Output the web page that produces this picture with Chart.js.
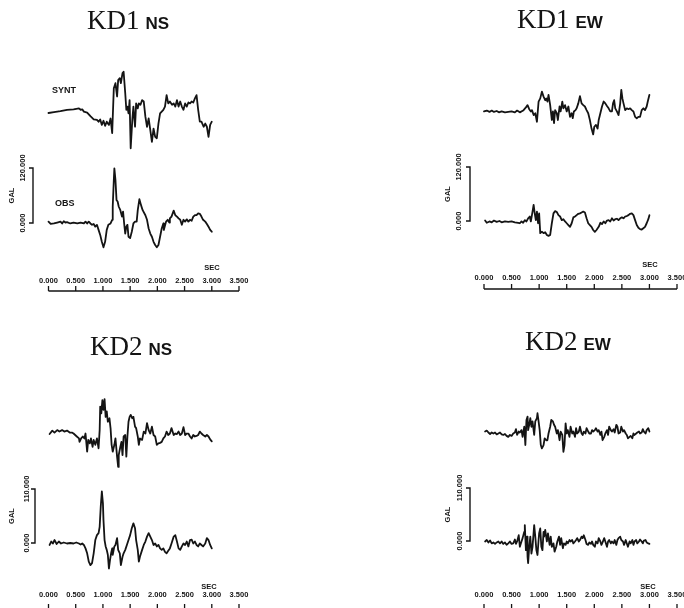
<!doctype html>
<html lang="en">
<head>
  <meta charset="utf-8" />
  <title>KD1 / KD2 SYNT vs OBS</title>
  <script src="https://cdn.jsdelivr.net/npm/chart.js@4.4.1/dist/chart.umd.min.js"></script>
  <style>
    *{box-sizing:border-box;margin:0;padding:0}
    html,body{width:684px;height:608px;background:#fff;overflow:hidden}
    #stage{position:relative;width:684px;height:608px}
    canvas{position:absolute}
  </style>
</head>
<body>
  <div id="stage">
    <canvas id="kd1ns" width="342" height="304" style="left:0;top:0"></canvas>
    <canvas id="kd1ew" width="342" height="304" style="left:342px;top:0"></canvas>
    <canvas id="kd2ns" width="342" height="304" style="left:0;top:304px"></canvas>
    <canvas id="kd2ew" width="342" height="304" style="left:342px;top:304px"></canvas>
  </div>

  <script>
    /* ===== data: [time (s), acceleration (gal)] ===== */
    const timeTicks = [0, 0.5, 1, 1.5, 2, 2.5, 3, 3.5];
    const timeUnit = 'SEC';
    const accUnit = 'GAL';
    const traceNames = ['SYNT', 'OBS'];

    const kd1NsSynt = [[0,0],[0.10,2],[0.22,4],[0.34,7],[0.46,8],[0.56,10],[0.59,7],[0.62,8],[0.65,3],[0.71,1],[0.77,-7],[0.83,-14],[0.89,-15],[0.92,-19],[0.95,-14],[0.98,-26],[1.01,-17],[1.04,-28],[1.07,-19],[1.11,-26],[1.14,-12],[1.17,-44],[1.20,54],[1.23,65],[1.26,36],[1.28,72],[1.31,76],[1.33,65],[1.36,87],[1.38,90],[1.41,43],[1.43,7],[1.45,14],[1.47,-1],[1.49,28],[1.51,-77],[1.54,-15],[1.56,14],[1.59,-30],[1.61,21],[1.64,10],[1.66,21],[1.69,18],[1.72,28],[1.75,25],[1.78,-8],[1.81,-30],[1.84,-12],[1.87,-37],[1.90,-63],[1.93,-34],[1.96,-52],[1.99,-55],[2.02,-23],[2.05,-1],[2.08,3],[2.11,7],[2.14,14],[2.17,39],[2.20,21],[2.23,25],[2.27,18],[2.30,21],[2.33,14],[2.36,28],[2.39,14],[2.42,25],[2.45,14],[2.48,7],[2.51,21],[2.54,14],[2.57,23],[2.60,21],[2.63,25],[2.66,23],[2.69,32],[2.72,39],[2.75,7],[2.78,-19],[2.81,-19],[2.85,-30],[2.88,-23],[2.91,-30],[2.94,-52],[2.97,-26],[3.00,-19]];
    const kd1NsObs = [[0,3],[0.04,-2],[0.10,-1],[0.16,1],[0.22,3],[0.25,-1],[0.28,4],[0.31,1],[0.34,2],[0.40,-1],[0.46,1],[0.53,-1],[0.59,1],[0.65,-1],[0.68,3],[0.71,-1],[0.74,3],[0.77,-1],[0.80,-4],[0.83,-2],[0.86,-8],[0.89,-4],[0.92,-15],[0.95,-26],[0.98,-41],[1.01,-53],[1.04,-41],[1.07,-15],[1.10,-4],[1.14,-1],[1.17,7],[1.18,36],[1.20,94],[1.21,119],[1.23,94],[1.25,50],[1.27,47],[1.29,36],[1.32,28],[1.35,14],[1.37,25],[1.39,-1],[1.41,-23],[1.43,-8],[1.45,-4],[1.47,-30],[1.50,-33],[1.53,-19],[1.56,-1],[1.59,3],[1.62,3],[1.64,28],[1.67,52],[1.70,39],[1.73,28],[1.78,17],[1.81,7],[1.84,-12],[1.87,-23],[1.90,-30],[1.93,-41],[1.96,-48],[1.99,-53],[2.02,-48],[2.05,-30],[2.08,-12],[2.11,-1],[2.12,-15],[2.16,3],[2.19,7],[2.22,1],[2.23,10],[2.26,14],[2.30,27],[2.33,17],[2.36,14],[2.39,10],[2.42,7],[2.45,-4],[2.48,7],[2.51,3],[2.54,8],[2.57,3],[2.60,7],[2.63,5],[2.66,14],[2.69,17],[2.72,17],[2.75,21],[2.78,20],[2.81,14],[2.84,7],[2.88,3],[2.91,-2],[2.94,-8],[2.97,-15],[3.00,-19]];

    const kd1EwSynt = [[0,-1],[0.05,1],[0.10,-2],[0.14,1],[0.18,-2],[0.23,0],[0.27,-3],[0.32,-1],[0.38,-3],[0.44,-2],[0.50,-1],[0.56,-3],[0.60,1],[0.65,-3],[0.71,1],[0.76,8],[0.79,13],[0.82,4],[0.85,-1],[0.87,2],[0.90,-9],[0.93,-5],[0.96,-24],[0.99,21],[1.02,28],[1.05,43],[1.08,32],[1.11,24],[1.13,28],[1.15,21],[1.17,36],[1.20,13],[1.23,-20],[1.25,-1],[1.27,-27],[1.29,2],[1.32,-5],[1.34,-20],[1.37,10],[1.39,-1],[1.42,21],[1.44,6],[1.47,13],[1.50,-1],[1.53,10],[1.56,-13],[1.59,-5],[1.61,-16],[1.63,-1],[1.66,2],[1.68,6],[1.71,17],[1.74,33],[1.77,17],[1.80,13],[1.83,10],[1.86,2],[1.89,-5],[1.92,-20],[1.95,-39],[1.98,-52],[2.00,-35],[2.03,-31],[2.06,-39],[2.08,-20],[2.11,-5],[2.14,10],[2.17,21],[2.20,17],[2.23,11],[2.26,6],[2.29,-1],[2.32,-1],[2.34,17],[2.36,24],[2.38,6],[2.41,-1],[2.44,-9],[2.47,17],[2.49,47],[2.51,28],[2.53,17],[2.56,2],[2.59,6],[2.62,4],[2.65,6],[2.68,2],[2.71,-1],[2.74,-13],[2.77,-16],[2.80,-13],[2.83,-13],[2.86,2],[2.89,6],[2.92,2],[2.95,10],[2.97,21],[3.00,36]];
    const kd1EwObs = [[0.02,1],[0.05,-4],[0.10,-1],[0.14,-3],[0.18,1],[0.23,-2],[0.28,0],[0.32,-3],[0.38,-1],[0.44,-2],[0.50,-1],[0.56,-3],[0.62,-4],[0.65,-5],[0.68,-1],[0.71,-4],[0.74,2],[0.77,-1],[0.80,6],[0.83,10],[0.85,-1],[0.88,21],[0.90,36],[0.92,17],[0.94,2],[0.96,21],[0.98,-5],[1.00,17],[1.02,-27],[1.05,-24],[1.08,-27],[1.11,-25],[1.14,-31],[1.17,-33],[1.20,-31],[1.23,-5],[1.26,17],[1.29,22],[1.32,20],[1.35,13],[1.38,10],[1.41,2],[1.44,4],[1.47,-1],[1.50,-5],[1.53,-9],[1.56,-13],[1.59,-5],[1.62,8],[1.65,10],[1.68,13],[1.71,16],[1.74,17],[1.77,19],[1.80,21],[1.83,19],[1.86,6],[1.89,-5],[1.92,-9],[1.95,-13],[1.98,-20],[2.01,-24],[2.04,-20],[2.08,-13],[2.11,-4],[2.14,-7],[2.17,-1],[2.20,-5],[2.23,1],[2.26,2],[2.29,-1],[2.32,6],[2.35,1],[2.38,4],[2.41,5],[2.44,2],[2.47,6],[2.50,8],[2.53,6],[2.56,10],[2.59,11],[2.62,13],[2.65,16],[2.68,17],[2.71,13],[2.74,2],[2.77,-9],[2.80,-15],[2.83,-18],[2.86,-19],[2.89,-16],[2.92,-13],[2.95,-5],[2.98,4],[3.00,13]];

    const kd2NsSynt = [[0.02,2],[0.07,9],[0.11,5],[0.16,10],[0.20,7],[0.25,10],[0.29,7],[0.34,9],[0.39,5],[0.43,5],[0.46,3],[0.49,0],[0.52,-3],[0.56,-7],[0.57,-14],[0.60,-7],[0.63,-3],[0.66,-7],[0.68,3],[0.71,-34],[0.73,-10],[0.76,-17],[0.78,-7],[0.81,-24],[0.83,-10],[0.86,-20],[0.89,-7],[0.92,-27],[0.94,10],[0.95,58],[0.97,44],[0.99,71],[1.01,51],[1.03,73],[1.05,37],[1.07,48],[1.09,27],[1.12,34],[1.14,14],[1.16,-20],[1.18,-34],[1.21,-20],[1.23,-7],[1.26,-44],[1.28,-65],[1.29,-41],[1.32,-24],[1.34,-14],[1.36,-41],[1.38,-3],[1.41,0],[1.43,-44],[1.45,-3],[1.47,27],[1.49,37],[1.51,41],[1.54,34],[1.56,37],[1.59,17],[1.61,14],[1.64,-3],[1.66,-20],[1.68,-7],[1.72,-10],[1.75,7],[1.78,3],[1.81,24],[1.84,10],[1.87,3],[1.90,17],[1.93,0],[1.96,-3],[1.99,-20],[2.02,-17],[2.05,-16],[2.08,-14],[2.11,-7],[2.14,-3],[2.17,7],[2.20,0],[2.23,3],[2.26,14],[2.30,0],[2.33,3],[2.36,2],[2.39,7],[2.42,0],[2.45,3],[2.48,16],[2.51,0],[2.54,3],[2.57,3],[2.60,-3],[2.63,-7],[2.66,0],[2.69,-3],[2.72,-2],[2.75,0],[2.78,7],[2.81,3],[2.84,0],[2.88,-3],[2.91,0],[2.94,-3],[2.97,-9],[3.00,-13]];
    const kd2NsObs = [[0.02,-4],[0.05,3],[0.08,-1],[0.11,6],[0.15,-2],[0.19,3],[0.23,-1],[0.28,1],[0.34,-1],[0.40,0],[0.46,-1],[0.51,1],[0.56,-1],[0.59,-3],[0.62,-1],[0.65,-4],[0.68,-11],[0.71,-21],[0.74,-38],[0.77,-45],[0.80,-41],[0.83,-21],[0.86,6],[0.89,16],[0.92,20],[0.94,33],[0.96,74],[0.98,105],[1.00,81],[1.01,47],[1.03,6],[1.05,-7],[1.07,-14],[1.09,-24],[1.11,-52],[1.13,-35],[1.15,-21],[1.17,-11],[1.18,-24],[1.21,-7],[1.23,-4],[1.26,10],[1.28,-14],[1.31,-21],[1.33,-45],[1.36,-28],[1.38,-21],[1.41,-14],[1.44,-4],[1.47,6],[1.50,16],[1.53,30],[1.56,40],[1.59,30],[1.61,6],[1.64,-14],[1.66,-38],[1.68,-28],[1.72,-14],[1.75,-4],[1.78,3],[1.81,13],[1.84,20],[1.87,13],[1.90,6],[1.93,-4],[1.96,-1],[1.99,-7],[2.02,-4],[2.05,-11],[2.08,-14],[2.11,-11],[2.14,-18],[2.17,-21],[2.20,-16],[2.23,-11],[2.26,-1],[2.30,13],[2.33,16],[2.36,3],[2.39,-11],[2.42,-14],[2.45,-7],[2.48,-1],[2.51,-4],[2.54,3],[2.57,-7],[2.60,6],[2.63,7],[2.66,-1],[2.69,3],[2.72,-4],[2.75,-7],[2.78,-1],[2.81,-4],[2.84,-7],[2.88,-1],[2.91,10],[2.94,6],[2.97,-4],[3.00,-11]];

    const kd2EwSynt = [[0.02,3],[0.05,5],[0.08,1],[0.11,-2],[0.14,1],[0.17,-1],[0.20,1],[0.23,-3],[0.26,-1],[0.29,1],[0.32,-3],[0.35,-4],[0.38,-2],[0.41,-6],[0.44,-8],[0.47,-4],[0.50,-6],[0.53,-1],[0.56,1],[0.58,8],[0.60,-4],[0.63,3],[0.65,1],[0.68,6],[0.70,-8],[0.73,13],[0.75,-25],[0.77,27],[0.79,34],[0.80,6],[0.82,17],[0.84,31],[0.86,13],[0.88,24],[0.91,-4],[0.93,24],[0.96,31],[0.97,41],[0.99,24],[1.01,6],[1.03,-25],[1.05,-32],[1.08,-25],[1.10,-11],[1.13,-15],[1.15,-15],[1.17,-1],[1.20,13],[1.22,27],[1.25,24],[1.27,17],[1.29,13],[1.32,-1],[1.34,6],[1.37,-15],[1.39,3],[1.42,-4],[1.44,-39],[1.46,-25],[1.48,20],[1.50,-1],[1.52,6],[1.55,-8],[1.57,13],[1.60,-1],[1.62,3],[1.65,-8],[1.67,10],[1.69,-1],[1.72,3],[1.74,13],[1.77,-1],[1.79,-4],[1.81,3],[1.84,-1],[1.86,10],[1.89,3],[1.91,-1],[1.94,-1],[1.96,6],[1.98,3],[2.01,6],[2.03,10],[2.06,3],[2.08,6],[2.11,-4],[2.13,3],[2.15,-15],[2.18,-8],[2.20,-1],[2.23,6],[2.25,-4],[2.27,13],[2.30,6],[2.32,3],[2.35,8],[2.37,1],[2.40,17],[2.42,13],[2.44,-1],[2.47,1],[2.49,13],[2.52,3],[2.54,6],[2.57,-1],[2.59,-4],[2.61,-11],[2.64,-8],[2.66,-6],[2.69,-11],[2.71,-1],[2.73,-4],[2.76,-1],[2.78,1],[2.81,3],[2.83,-1],[2.86,1],[2.88,8],[2.90,3],[2.93,-1],[2.95,6],[2.98,10],[3.00,3]];
    const kd2EwObs = [[0.02,-1],[0.05,2],[0.08,-3],[0.11,1],[0.14,-5],[0.17,-3],[0.20,-6],[0.23,-3],[0.26,-1],[0.29,-5],[0.32,-1],[0.35,-6],[0.38,-3],[0.41,-8],[0.44,-5],[0.47,-1],[0.50,-6],[0.53,-5],[0.56,3],[0.58,-6],[0.60,-1],[0.63,12],[0.65,-12],[0.68,-1],[0.70,6],[0.73,19],[0.74,33],[0.76,-19],[0.78,9],[0.79,-33],[0.80,-46],[0.82,-12],[0.84,9],[0.86,-26],[0.88,-12],[0.91,33],[0.93,9],[0.95,-19],[0.97,-29],[0.99,2],[1.00,16],[1.02,26],[1.04,-12],[1.06,-19],[1.08,19],[1.09,9],[1.11,23],[1.14,-1],[1.16,16],[1.19,-8],[1.21,9],[1.23,-12],[1.26,-5],[1.28,-22],[1.31,-12],[1.33,-1],[1.36,9],[1.38,-8],[1.40,6],[1.43,-15],[1.45,-5],[1.48,-8],[1.50,-1],[1.52,-5],[1.55,2],[1.57,-1],[1.60,2],[1.62,-5],[1.65,-1],[1.67,2],[1.69,6],[1.72,-1],[1.74,2],[1.77,9],[1.79,6],[1.81,12],[1.84,2],[1.86,-6],[1.89,-8],[1.91,-3],[1.94,-6],[1.96,-1],[1.98,-8],[2.01,-12],[2.03,-1],[2.06,-5],[2.08,6],[2.11,-1],[2.13,-8],[2.15,-3],[2.18,6],[2.20,-1],[2.23,-12],[2.25,-1],[2.27,2],[2.30,-5],[2.32,-1],[2.35,-5],[2.37,2],[2.40,-8],[2.42,2],[2.44,6],[2.47,9],[2.49,2],[2.52,-1],[2.54,-8],[2.57,2],[2.59,-5],[2.61,-12],[2.64,-1],[2.66,-5],[2.69,2],[2.71,-8],[2.73,-1],[2.76,2],[2.78,-5],[2.81,-1],[2.83,3],[2.86,-1],[2.88,-5],[2.90,1],[2.93,2],[2.95,-3],[2.98,-5],[3.00,-6]];

    /* ===== panels: which data, and where it sits on the page ===== */
    const panels = [
      { id:'kd1ns', station:'KD1', comp:'NS', synt:kd1NsSynt, obs:kd1NsObs, scaleGal:120, names:true,
        box:{ ox:0, oy:0, t0:48.5, t35:239, obsZero:223, barTop:168, syntZero:113, barX:33, lblGap:10, galGap:21,
              titleX:87, titleBase:29, axisY:291, labelY:281, secX:212, secY:268 } },
      { id:'kd1ew', station:'KD1', comp:'EW', synt:kd1EwSynt, obs:kd1EwObs, scaleGal:120, names:false,
        box:{ ox:342, oy:0, t0:484, t35:677, obsZero:221, barTop:167, syntZero:111, barX:470, lblGap:11, galGap:22,
              titleX:517, titleBase:28, axisY:289, labelY:278, secX:650, secY:265 } },
      { id:'kd2ns', station:'KD2', comp:'NS', synt:kd2NsSynt, obs:kd2NsObs, scaleGal:110, names:false,
        box:{ ox:0, oy:304, t0:48.5, t35:239, obsZero:543, barTop:489, syntZero:435, barX:35, lblGap:8, galGap:23,
              titleX:90, titleBase:355, axisY:609, labelY:595, secX:209, secY:587 } },
      { id:'kd2ew', station:'KD2', comp:'EW', synt:kd2EwSynt, obs:kd2EwObs, scaleGal:110, names:false,
        box:{ ox:342, oy:304, t0:484, t35:677, obsZero:541, barTop:488, syntZero:433, barX:470, lblGap:10, galGap:22,
              titleX:525, titleBase:350, axisY:609, labelY:595, secX:648, secY:587 } }
    ];

    const INK = '#141414';
    const SANS = '"Liberation Sans", Arial, sans-serif';
    const SERIF = '"Liberation Serif", "DejaVu Serif", serif';
    const W = 342, H = 304, AREA_TOP = 20, AREA_BOTTOM = 300;

    // rotated (bottom-to-top) text
    function upText(ctx, txt, x, y){
      ctx.save();
      ctx.translate(x, y);
      ctx.rotate(-Math.PI / 2);
      ctx.textAlign = 'center';
      ctx.textBaseline = 'middle';
      ctx.fillText(txt, 0, 0);
      ctx.restore();
    }

    // title, scale bar and time axis drawn from the chart's scales
    function decor(p){
      const b = p.box;
      return {
        id: 'decor',
        afterDraw(chart){
          const ctx = chart.ctx;
          const xs = chart.scales.x, ys = chart.scales.yObs, yS = chart.scales.ySynt;
          ctx.save();
          ctx.fillStyle = INK;
          ctx.strokeStyle = INK;

          /* — title — */
          ctx.textAlign = 'left';
          ctx.textBaseline = 'alphabetic';
          ctx.font = '27px ' + SERIF;
          ctx.fillText(p.station, b.titleX - b.ox, b.titleBase - b.oy);
          const w = ctx.measureText(p.station).width;
          ctx.font = 'bold 17px ' + SANS;
          ctx.fillText(p.comp, b.titleX - b.ox + w + 6, b.titleBase - b.oy);

          /* — trace names — */
          if (p.names) {
            ctx.font = 'bold 9px ' + SANS;
            ctx.fillText(traceNames[0], 52 - b.ox, yS.getPixelForValue(0) - 20);
            ctx.fillText(traceNames[1], 55 - b.ox, ys.getPixelForValue(0) - 17);
          }

          /* — amplitude scale bar — */
          const y0 = ys.getPixelForValue(0), y1 = ys.getPixelForValue(p.scaleGal);
          const bx = b.barX - b.ox;
          ctx.lineWidth = 1.4;
          ctx.beginPath();
          ctx.moveTo(bx - 4, y1); ctx.lineTo(bx, y1); ctx.lineTo(bx, y0); ctx.lineTo(bx - 4, y0);
          ctx.stroke();
          ctx.font = 'bold 7.5px ' + SANS;
          upText(ctx, p.scaleGal.toFixed(3), bx - b.lblGap, y1);
          upText(ctx, (0).toFixed(3), bx - b.lblGap, y0);
          upText(ctx, accUnit, bx - b.galGap, (y0 + y1) / 2);

          /* — time axis: labels above, line below — */
          const ay = b.axisY - b.oy;
          ctx.lineWidth = 1.3;
          ctx.beginPath();
          ctx.moveTo(xs.getPixelForValue(timeTicks[0]), ay);
          ctx.lineTo(xs.getPixelForValue(timeTicks[timeTicks.length - 1]), ay);
          timeTicks.forEach(t => {
            const px = xs.getPixelForValue(t);
            ctx.moveTo(px, ay); ctx.lineTo(px, ay - 5);
          });
          ctx.stroke();
          ctx.textAlign = 'center';
          ctx.textBaseline = 'middle';
          ctx.font = 'bold 7.5px ' + SANS;
          timeTicks.forEach(t => ctx.fillText(t.toFixed(3), xs.getPixelForValue(t), b.labelY - b.oy));
          ctx.fillText(timeUnit, b.secX - b.ox, b.secY - b.oy);
          ctx.restore();
        }
      };
    }

    function makeChart(p){
      const b = p.box;
      const k = (b.obsZero - b.barTop) / p.scaleGal;   // px per gal
      const z0 = b.obsZero - b.oy, s0 = b.syntZero - b.oy;
      const trace = (pts, axis) => ({
        data: pts.map(([t, v]) => ({ x: t, y: v })),
        yAxisID: axis,
        borderColor: INK,
        borderWidth: 1.8,
        borderJoinStyle: 'round',
        borderCapStyle: 'round',
        pointRadius: 0,
        tension: 0,
        fill: false,
        clip: false
      });
      return new Chart(document.getElementById(p.id), {
        type: 'line',
        data: { datasets: [trace(p.synt, 'ySynt'), trace(p.obs, 'yObs')] },
        options: {
          responsive: false,
          animation: false,
          events: [],
          layout: { padding: { left: b.t0 - b.ox, right: W - (b.t35 - b.ox), top: AREA_TOP, bottom: H - AREA_BOTTOM } },
          scales: {
            x: { type: 'linear', min: timeTicks[0], max: timeTicks[timeTicks.length - 1], display: false },
            yObs: { type: 'linear', display: false, min: -(AREA_BOTTOM - z0) / k, max: (z0 - AREA_TOP) / k },
            ySynt: { type: 'linear', display: false, min: -(AREA_BOTTOM - s0) / k, max: (s0 - AREA_TOP) / k }
          },
          plugins: { legend: { display: false }, tooltip: { enabled: false }, title: { display: false } }
        },
        plugins: [decor(p)]
      });
    }

    panels.forEach(makeChart);
  </script>
</body>
</html>
